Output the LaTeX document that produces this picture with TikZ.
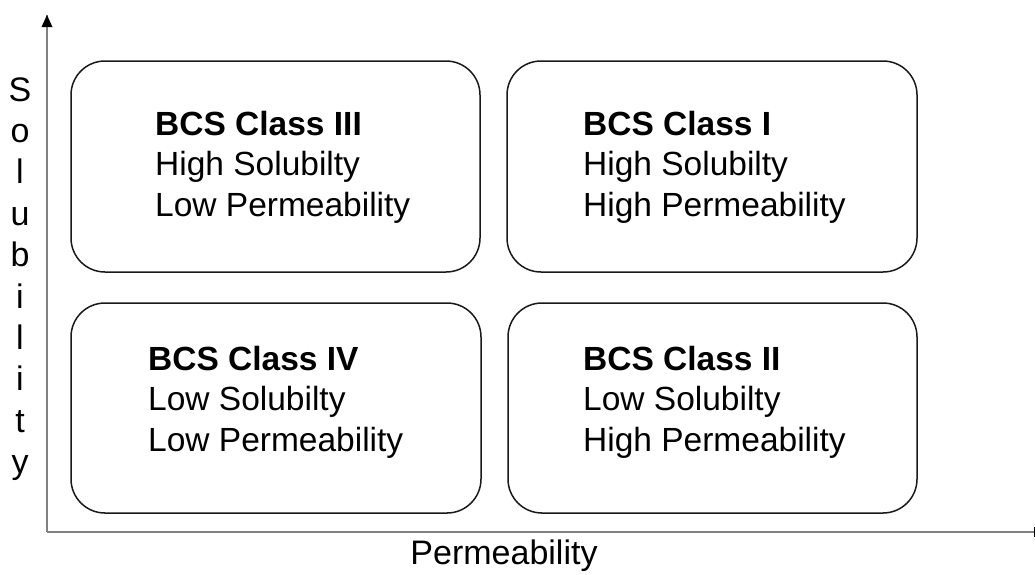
\documentclass[tikz,border=0pt]{standalone}
\usepackage{fontspec}
\setmainfont{Liberation Sans}
\usetikzlibrary{arrows.meta}
\begin{document}
\begin{tikzpicture}[x=1pt,y=-1pt,
  classbox/.style={draw=black!90,line width=1.5pt,rounded corners=34pt},
  classtext/.style={anchor=west,align=left,inner sep=0pt,font=\fontsize{33.5}{40.5}\selectfont},
  axis/.style={draw=black!50,line width=1.6pt},
  axislabel/.style={inner sep=0pt,font=\fontsize{34}{40}\selectfont}]
\useasboundingbox (0,0) rectangle (1035,574);
% axes
\coordinate (O) at (47,532);
\coordinate (ytop) at (47,15);
\draw[axis] (O) -- (ytop);
\fill[black] (ytop) -- ++(-5.5,12) -- ++(11,0) -- cycle;
\draw[axis] (O) -- (1034,532);
\draw[black,line width=1pt] (1034,527) -- (1034,537);
% boxes
\draw[classbox] (71,61) rectangle (480,272);
\draw[classbox] (507,61) rectangle (917,272);
\draw[classbox] (71,303) rectangle (481,513);
\draw[classbox] (508,303) rectangle (917,513);
\node[classtext] (c3) at (155,167) {\textbf{BCS Class III}\\High Solubilty\\Low Permeability};
\node[classtext] (c1) at (583,167) {\textbf{BCS Class I}\\High Solubilty\\High Permeability};
\node[classtext] (c4) at (148,402) {\textbf{BCS Class IV}\\Low Solubilty\\Low Permeability};
\node[classtext] (c2) at (583,402) {\textbf{BCS Class II}\\Low Solubilty\\High Permeability};
% axis labels
\node[axislabel] (xl) at (504,556) {Permeability};
\foreach \ch [count=\i from 0] in {S,o,l,u,b,i,l,i,t,y}
  \node[axislabel,anchor=base] (yl\i) at (20,101+41.4*\i) {\ch};
\end{tikzpicture}
\end{document}
